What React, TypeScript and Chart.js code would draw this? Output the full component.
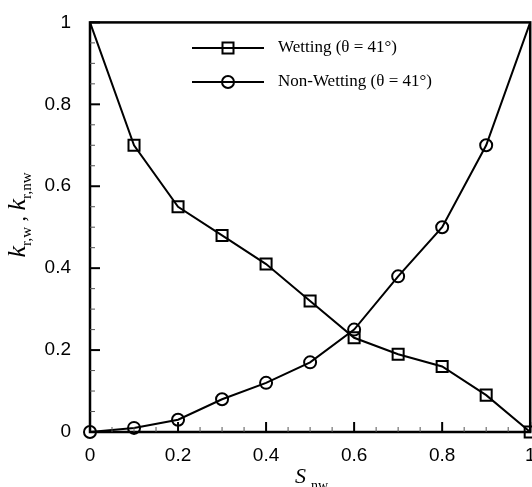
import React, { useEffect, useRef } from "react";
import { Chart, registerables } from "chart.js";

Chart.register(...registerables);

const sValues = [0, 0.1, 0.2, 0.3, 0.4, 0.5, 0.6, 0.7, 0.8, 0.9, 1];
const wetting = [1, 0.7, 0.55, 0.48, 0.41, 0.32, 0.23, 0.19, 0.16, 0.09, 0];
const nonWetting = [0, 0.01, 0.03, 0.08, 0.12, 0.17, 0.25, 0.38, 0.5, 0.7, 1];
const wettingLabel = "Wetting (θ = 41°)";
const nonWettingLabel = "Non-Wetting (θ = 41°)";
const majorTicks = [0, 0.2, 0.4, 0.6, 0.8, 1];
const minorTicks = [0.05, 0.1, 0.15, 0.25, 0.3, 0.35, 0.45, 0.5, 0.55, 0.65, 0.7, 0.75, 0.85, 0.9, 0.95];

const fmt = (v: number) => (v === 0 ? "0" : v === 1 ? "1" : String(Math.round(v * 10) / 10));

const decorPlugin = {
  id: "decor",
  afterDraw(chart: any) {
    const ctx = chart.ctx as CanvasRenderingContext2D;
    const { left, right, top, bottom } = chart.chartArea;
    const xs = chart.scales.x;
    const ys = chart.scales.y;
    ctx.save();
    // frame
    ctx.strokeStyle = "#000";
    ctx.lineWidth = 2.5;
    ctx.strokeRect(left, top, right - left, bottom - top);
    // ticks
    ctx.lineWidth = 2;
    majorTicks.forEach((v) => {
      const px = xs.getPixelForValue(v);
      ctx.beginPath();
      ctx.moveTo(px, bottom);
      ctx.lineTo(px, bottom - 10);
      ctx.stroke();
      const py = ys.getPixelForValue(v);
      ctx.beginPath();
      ctx.moveTo(left, py);
      ctx.lineTo(left + 10, py);
      ctx.stroke();
    });
    ctx.lineWidth = 1;
    ctx.strokeStyle = "#555";
    minorTicks.forEach((v) => {
      const px = xs.getPixelForValue(v);
      ctx.beginPath();
      ctx.moveTo(px, bottom);
      ctx.lineTo(px, bottom - 5);
      ctx.stroke();
      const py = ys.getPixelForValue(v);
      ctx.beginPath();
      ctx.moveTo(left, py);
      ctx.lineTo(left + 5, py);
      ctx.stroke();
    });
    // legend
    ctx.strokeStyle = "#000";
    ctx.fillStyle = "#000";
    const lx0 = 192;
    const lx1 = 264;
    const rows = [
      { y: 48, label: wettingLabel, shape: "sq" },
      { y: 82, label: nonWettingLabel, shape: "ci" },
    ];
    ctx.font = "17px 'Liberation Serif', serif";
    ctx.textBaseline = "middle";
    ctx.textAlign = "left";
    rows.forEach((r) => {
      ctx.lineWidth = 2;
      ctx.beginPath();
      ctx.moveTo(lx0, r.y);
      ctx.lineTo(lx1, r.y);
      ctx.stroke();
      const cx = 228;
      ctx.beginPath();
      if (r.shape === "sq") ctx.rect(cx - 5.5, r.y - 5.5, 11, 11);
      else ctx.arc(cx, r.y, 6, 0, Math.PI * 2);
      ctx.stroke();
      ctx.fillText(r.label, 278, r.y);
    });
    // x title
    ctx.textBaseline = "alphabetic";
    ctx.font = "italic 22px 'Liberation Serif', serif";
    ctx.fillText("S", 295, 483);
    ctx.font = "14px 'Liberation Serif', serif";
    ctx.fillText("nw", 311, 490);
    // y title
    ctx.translate(25, 215);
    ctx.rotate(-Math.PI / 2);
    const parts: [string, string, number][] = [
      ["k", "italic 26px 'Liberation Serif', serif", 0],
      ["r,w", "15px 'Liberation Serif', serif", 6],
      [" , ", "22px 'Liberation Serif', serif", 0],
      ["k", "italic 26px 'Liberation Serif', serif", 0],
      ["r,nw", "15px 'Liberation Serif', serif", 6],
    ];
    let total = 0;
    parts.forEach(([t, f]) => {
      ctx.font = f;
      total += ctx.measureText(t).width;
    });
    let x = -total / 2;
    parts.forEach(([t, f, dy]) => {
      ctx.font = f;
      ctx.fillText(t, x, dy);
      x += ctx.measureText(t).width;
    });
    ctx.restore();
  },
};

export default function App() {
  const ref = useRef<HTMLCanvasElement | null>(null);
  useEffect(() => {
    document.body.style.margin = "0";
    const canvas = ref.current!;
    const ptsW = sValues.map((s, i) => ({ x: s, y: wetting[i] }));
    const ptsN = sValues.map((s, i) => ({ x: s, y: nonWetting[i] }));
    const chart = new Chart(canvas, {
      type: "line",
      data: {
        datasets: [
          {
            label: wettingLabel,
            data: ptsW,
            borderColor: "#000",
            backgroundColor: "transparent",
            borderWidth: 2,
            pointStyle: "rect",
            pointRadius: sValues.map((_, i) => (i === 0 ? 0 : 7.8)),
            pointBorderWidth: 2,
            pointBorderColor: "#000",
            pointBackgroundColor: "transparent",
          },
          {
            label: nonWettingLabel,
            data: ptsN,
            borderColor: "#000",
            backgroundColor: "transparent",
            borderWidth: 2,
            pointStyle: "circle",
            pointRadius: sValues.map((_, i) => (i === sValues.length - 1 ? 0 : 6)),
            pointBorderWidth: 2,
            pointBorderColor: "#000",
            pointBackgroundColor: "transparent",
          },
        ],
      },
      options: {
        animation: false,
        responsive: false,
        layout: { padding: { top: 21, right: 0, left: 0, bottom: 0 } },
        plugins: { legend: { display: false }, tooltip: { enabled: false } },
        clip: false as any,
        scales: {
          x: {
            type: "linear",
            min: 0,
            max: 1,
            grid: { display: false },
            border: { display: false },
            ticks: {
              stepSize: 0.2,
              padding: 4,
              color: "#000",
              font: { family: "'Liberation Sans', Arial, sans-serif", size: 19 },
              callback: (v: any) => fmt(Number(v)),
              maxRotation: 0,
            },
            afterFit: (s: any) => {
              s.height = 55;
            },
          },
          y: {
            type: "linear",
            min: 0,
            max: 1,
            grid: { display: false },
            border: { display: false },
            ticks: {
              stepSize: 0.2,
              padding: 11,
              color: "#000",
              font: { family: "'Liberation Sans', Arial, sans-serif", size: 19 },
              callback: (v: any) => fmt(Number(v)),
            },
            afterFit: (s: any) => {
              s.width = 90;
            },
          },
        },
      },
      plugins: [decorPlugin],
    });
    return () => chart.destroy();
  }, []);
  return (
    <div style={{ width: 532, height: 487, overflow: "hidden" }}>
      <canvas ref={ref} width={540} height={487} style={{ display: "block" }} />
    </div>
  );
}
